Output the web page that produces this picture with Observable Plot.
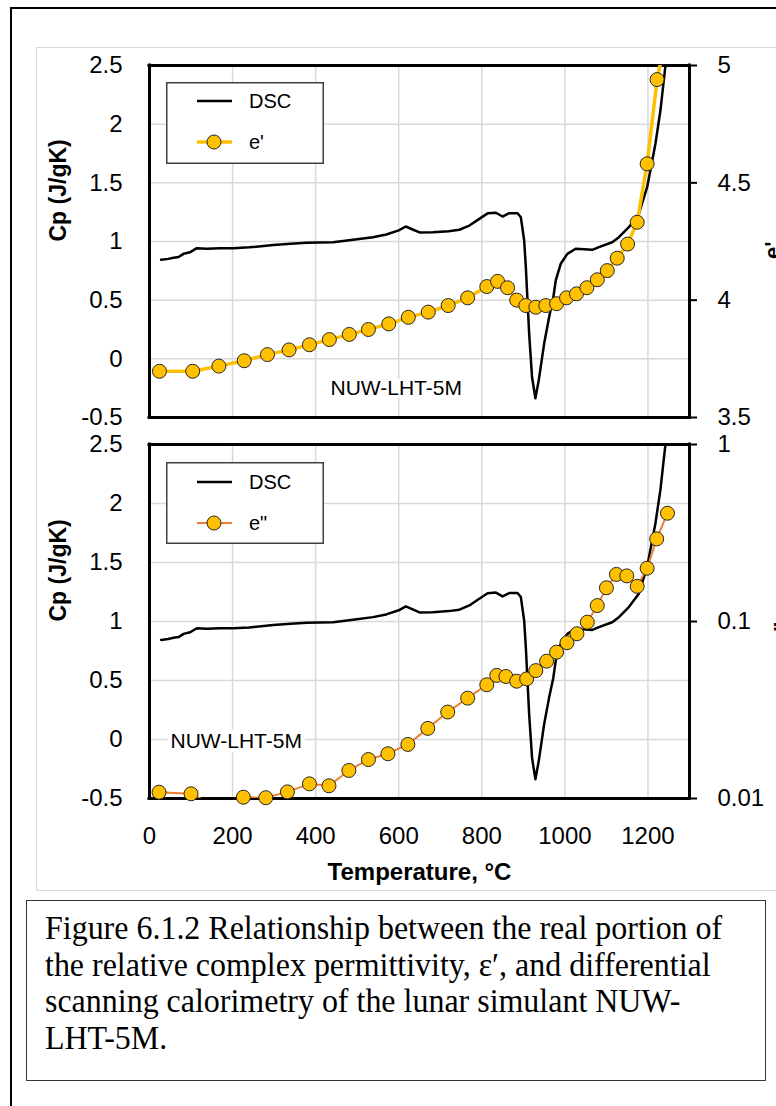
<!DOCTYPE html>
<html><head><meta charset="utf-8">
<script src="https://cdn.jsdelivr.net/npm/d3@7"></script>
<script src="https://cdn.jsdelivr.net/npm/@observablehq/plot@0.6"></script>
<style>
html,body{margin:0;padding:0;background:#fff;overflow:hidden;}
#page{position:relative;width:776px;height:1106px;overflow:hidden;background:#fff;font-family:"Liberation Sans",Arial,sans-serif;}
.abs{position:absolute;}
#outer{left:10px;top:7px;width:900px;height:1200px;border-top:2px solid #000;border-left:2px solid #000;}
#area{left:36px;top:47px;width:900px;height:842px;border:1px solid #d9d9d9;}
#caption{left:26px;top:900px;width:740px;height:181px;border:1.5px solid #333;box-sizing:border-box;}
#captext{left:45px;top:910px;font-family:"Liberation Serif","Times New Roman",serif;font-size:34px;line-height:36.7px;white-space:nowrap;transform:scaleX(0.94);transform-origin:left top;color:#000;}
</style></head><body><div id="page">
<div id="outer" class="abs"></div>
<div id="area" class="abs"></div>
</div>
<script>
// ---------- data ----------
const dscTemp = [28,45,58,70,82,98,114,138,170,202,240,298,340,378,442,490,538,570,600,617,635,650,682,720,746,770,794,814,834,850,866,886,894,902,906,910,914,921,929,937,950,962,972,978,990,1006,1026,1066,1082,1114,1130,1154,1178,1198,1218,1230,1238,1246];
const dscCp   = [0.844,0.852,0.862,0.868,0.895,0.909,0.943,0.938,0.942,0.943,0.950,0.970,0.980,0.989,0.994,1.014,1.037,1.060,1.095,1.128,1.100,1.077,1.079,1.088,1.100,1.136,1.193,1.240,1.245,1.213,1.241,1.241,1.207,1.008,0.781,0.497,0.213,-0.157,-0.336,-0.185,0.128,0.355,0.520,0.668,0.810,0.895,0.938,0.929,0.952,0.994,1.037,1.122,1.236,1.463,1.833,2.116,2.372,2.620];
const e1Temp = [24,104,167,228,284,336,385,433,481,527,576,623,671,719,766,812,838,862,884,906,930,954,980,1004,1028,1053,1078,1102,1126,1151,1174,1198,1222,1246];
const e1Val  = [3.697,3.697,3.719,3.742,3.768,3.788,3.810,3.832,3.854,3.875,3.899,3.927,3.949,3.977,4.010,4.058,4.080,4.053,4.000,3.977,3.970,3.977,3.985,4.010,4.027,4.053,4.087,4.126,4.179,4.239,4.332,4.581,4.940,5.150];
const e2Temp = [23,100,163,226,280,332,385,432,480,527,574,622,670,718,766,812,836,858,884,908,930,956,980,1005,1029,1054,1078,1100,1124,1149,1174,1198,1221,1247];
const e2Val  = [0.01085,0.01063,0.0090,0.01017,0.0101,0.0109,0.0121,0.0118,0.0144,0.0166,0.0179,0.0202,0.0249,0.0308,0.0369,0.0439,0.0496,0.0489,0.0460,0.0474,0.0528,0.0597,0.0671,0.0759,0.0853,0.0991,0.123,0.155,0.1845,0.181,0.158,0.200,0.293,0.409];
const xDomain = [0,1300];
const xTicks  = [0,200,400,600,800,1000,1200];
const cpDomain = [-0.5,2.5];
const cpTicks = [-0.5,0,0.5,1,1.5,2,2.5];
const e1Domain = [3.5,5];
const e1Ticks = [3.5,4,4.5,5];
const e2Domain = [0.01,1];
const e2Ticks = [0.01,0.1,1];
const seriesNames1 = ["DSC","e'"];
const seriesNames2 = ["DSC",'e"'];
const yTitleLeft = "Cp (J/gK)";
const yTitleRight1 = "e'";
const yTitleRight2 = 'e"';
const xTitle = "Temperature, °C";
const sampleLabel = "NUW-LHT-5M";
const captionLines = [
  "Figure 6.1.2 Relationship between the real portion of",
  "the relative complex permittivity, ε′, and differential",
  "scanning calorimetry of the lunar simulant NUW-",
  "LHT-5M."
];

// ---------- tables ----------
const dsc = dscTemp.map((t,i)=>({t, v: dscCp[i]}));
const e1  = e1Temp.map((t,i)=>({t, v: e1Val[i]}));
const e2  = e2Temp.map((t,i)=>({t, v: e2Val[i]}));

const page = document.getElementById("page");
const FONT = "Liberation Sans, Arial, sans-serif";
const GRID = {stroke:"#d9d9d9", strokeOpacity:1, strokeWidth:1.5};
const W = 776, ML = 149, MR = 87, FW = W - ML - MR;
function place(node, top){ node.style.position="absolute"; node.style.left="0px"; node.style.top=top+"px"; page.appendChild(node); }

function basePlot({height, mt, mb, showX, labelDx, labelDy, halo}){
  return Plot.plot({
    width: W, height, marginLeft: ML, marginRight: MR, marginTop: mt, marginBottom: mb,
    style: {fontFamily: FONT, fontSize: "24px", background: "transparent", color: "black", overflow: "visible"},
    x: {domain:xDomain, ...(showX ? {} : {axis:null})},
    y: {domain:cpDomain},
    marks: [
      Plot.gridX(xTicks, GRID),
      Plot.gridY(cpTicks, GRID),
      Plot.line(dsc, {x:"t", y:"v", stroke:"black", strokeWidth:2.5, clip:true}),
      Plot.axisY(cpTicks, {anchor:"left", tickSize:0, tickPadding:27, tickFormat: d=>String(d), label:null, fontSize:24}),
      showX ? Plot.axisX(xTicks, {anchor:"bottom", tickSize:0, tickPadding:28, tickFormat: d=>String(d), label:null, fontSize:24}) : null,
      Plot.text([yTitleLeft], {text:d=>d, frameAnchor:"left", rotate:-90, dx:-84, lineAnchor:"bottom", fontWeight:"bold", fontSize:23, fill:"black"}),
      showX ? Plot.text([xTitle], {text:d=>d, frameAnchor:"bottom", dy:81, lineAnchor:"bottom", fontWeight:"bold", fontSize:24, fill:"black"}) : null,
      Plot.text([sampleLabel], {text:d=>d, frameAnchor:"bottom-left", dx:labelDx, dy:labelDy, textAnchor:"start", lineAnchor:"bottom", fontSize:21, fill:"black", stroke:"white", strokeWidth:halo, paintOrder:"stroke", strokeLinejoin:"round"})
    ]
  });
}

function overlayPlot({height, mt, mb, data, yScale, yDomain, ticks, lineColor, lineWidth, title, titleDx}){
  const [lo, hi] = yDomain;
  const BORDER = {stroke:"black", strokeWidth:3, strokeLinecap:"square"};
  return Plot.plot({
    width: W, height, marginLeft: ML, marginRight: MR, marginTop: mt, marginBottom: mb,
    style: {fontFamily: FONT, fontSize: "24px", background: "transparent", color: "black"},
    x: {domain:xDomain, axis:null},
    y: {...yScale, domain:yDomain},
    marks: [
      // plot-area border drawn as rules at the scale extremes
      Plot.ruleX(xDomain, BORDER),
      Plot.ruleY(yDomain, BORDER),
      // outward tick marks of the secondary axis
      Plot.ruleY(ticks, {stroke:"black", strokeWidth:2, insetLeft:FW, insetRight:-8}),
      Plot.line(data, {x:"t", y:"v", stroke:lineColor, strokeWidth:lineWidth, clip:true}),
      Plot.dot(data, {x:"t", y:"v", r:7, fill:"#FFC000", stroke:"#262626", strokeWidth:1, filter: d => d.v <= hi && d.v >= lo}),
      Plot.axisY(ticks, {anchor:"right", tickSize:0, tickPadding:28, tickFormat: d=>String(d), label:null, fontSize:24}),
      Plot.text([title], {text:d=>d, frameAnchor:"right", rotate:-90, dx:titleDx, lineAnchor:"bottom", fontWeight:"bold", fontSize:22, fill:"black"})
    ]
  });
}

// top panel: frame y 65..417
place(basePlot({height:430, mt:65, mb:13, showX:false, labelDx:181, labelDy:-23, halo:6}), 0);
place(overlayPlot({height:430, mt:65, mb:13, data:e1, yScale:{}, yDomain:e1Domain, ticks:e1Ticks, lineColor:"#FFC000", lineWidth:3.5, title:yTitleRight1, titleDx:90}), 0);

// bottom panel: frame y 444..798
place(basePlot({height:460, mt:14, mb:92, showX:true, labelDx:21, labelDy:-51, halo:9}), 430);
place(overlayPlot({height:460, mt:14, mb:92, data:e2, yScale:{type:"log"}, yDomain:e2Domain, ticks:e2Ticks, lineColor:"#ED7D31", lineWidth:2, title:yTitleRight2, titleDx:99}), 430);

// legends
function legend(top, names, color2, lw2, rowA, rowB){
  const w = 158, h = 82;
  const svg = d3.create("svg").attr("width", w).attr("height", h)
    .style("position","absolute").style("left","166px").style("top", top+"px").style("font-family", FONT);
  svg.append("rect").attr("x",0.75).attr("y",0.75).attr("width",w-1.5).attr("height",h-1.5).attr("fill","white").attr("stroke","#404040").attr("stroke-width",1.5);
  svg.append("line").attr("x1",31).attr("x2",66).attr("y1",rowA).attr("y2",rowA).attr("stroke","black").attr("stroke-width",2.5);
  svg.append("line").attr("x1",31).attr("x2",66).attr("y1",rowB).attr("y2",rowB).attr("stroke",color2).attr("stroke-width",lw2);
  svg.append("circle").attr("cx",48).attr("cy",rowB).attr("r",7).attr("fill","#FFC000").attr("stroke","#262626").attr("stroke-width",1);
  [rowA,rowB].forEach((y,i)=>{ svg.append("text").attr("x",83).attr("y",y).attr("dy","0.35em").attr("font-size",20).attr("fill","black").text(names[i]); });
  page.appendChild(svg.node());
}
legend(82, seriesNames1, "#FFC000", 3.5, 19, 60);
legend(462, seriesNames2, "#ED7D31", 2, 20, 61);

// caption
const cap = document.createElement("div"); cap.id="caption"; cap.className="abs"; page.appendChild(cap);
const ct = document.createElement("div"); ct.id="captext"; ct.className="abs";
captionLines.forEach((l,i)=>{ if(i) ct.appendChild(document.createElement("br")); ct.appendChild(document.createTextNode(l)); });
page.appendChild(ct);
</script>
</body></html>
